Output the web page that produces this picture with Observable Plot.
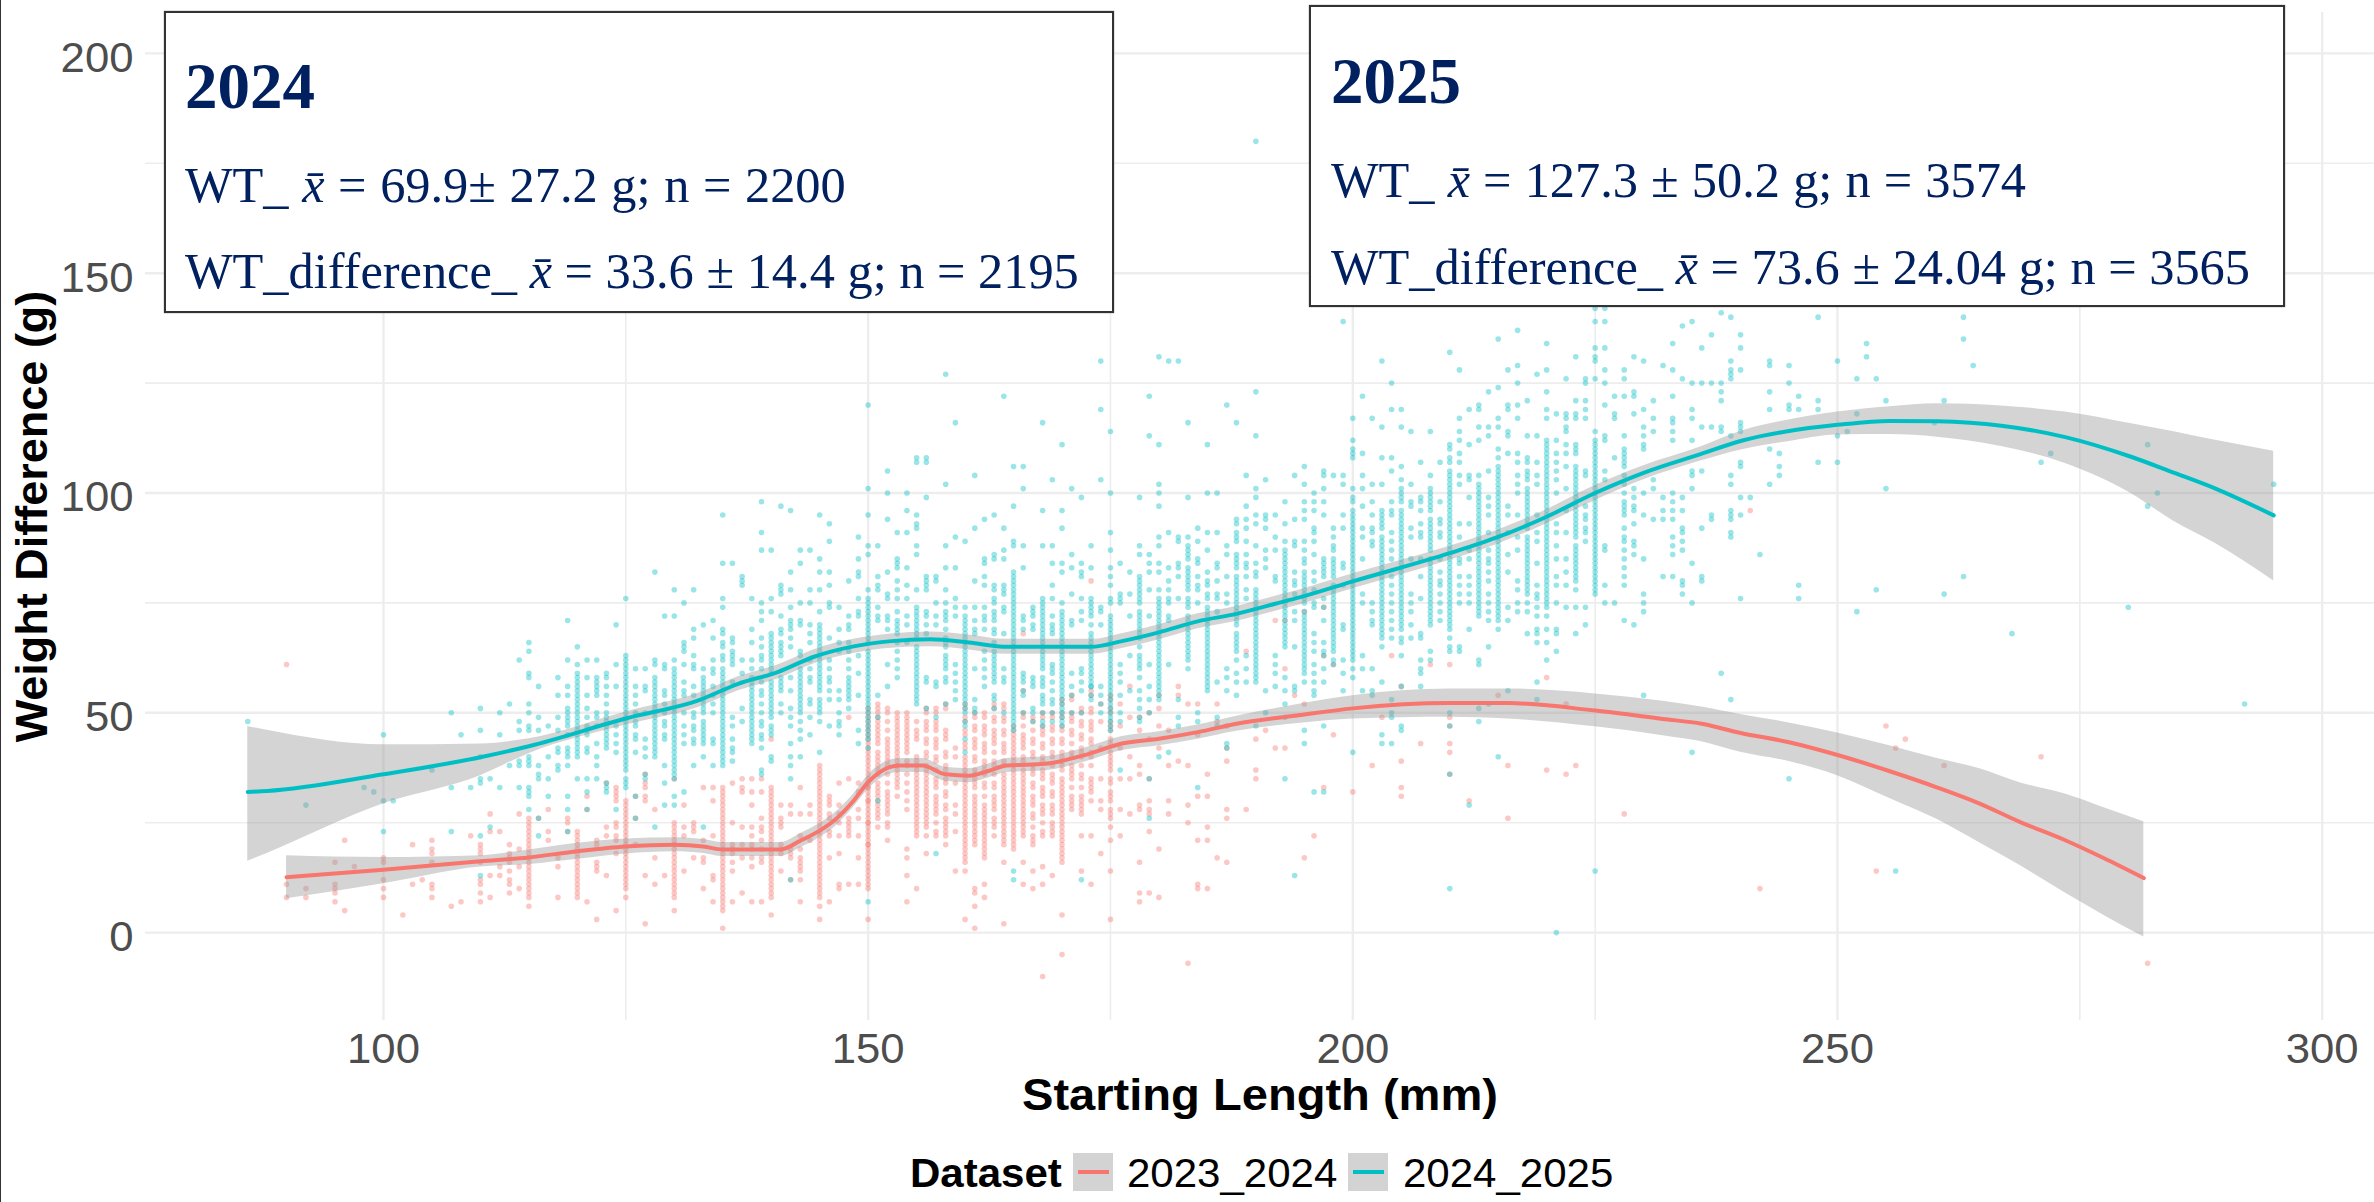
<!DOCTYPE html>
<html><head><meta charset="utf-8">
<script src="https://cdn.jsdelivr.net/npm/d3@7"></script>
<script src="https://cdn.jsdelivr.net/npm/@observablehq/plot@0.6"></script>
<style>
html,body{margin:0;padding:0;background:#fff;overflow:hidden}
#wrap{position:relative;width:2374px;height:1202px;font-family:"Liberation Sans",Arial,sans-serif}
#wrap svg{position:absolute;left:0;top:0}
.box{position:absolute;box-sizing:border-box;background:#fff;border:2px solid #333;box-shadow:0 0 1px #555;color:#002060;font-family:"Liberation Serif",serif}
.box div{position:absolute;white-space:nowrap;line-height:1}
.lg{position:absolute;white-space:nowrap;line-height:1;font-size:41px;color:#000;transform-origin:0 50%;transform:scaleX(1.025)}
.key{position:absolute;width:40px;height:38px;background:#d3d3d3}
.key i{position:absolute;left:5px;right:4px;top:17px;height:4px}
</style></head><body><div id="wrap"></div>
<script>
const legendTitle="Dataset", seriesNames=["2023_2024","2024_2025"], seriesColors=["#F8766D","#00BFC4"];
const xTitle="Starting Length (mm)", yTitle="Weight Difference (g)";
const xTicks=[100,150,200,250,300], yTicks=[0,50,100,150,200];
const xMinor=[125,175,225,275], yMinor=[25,75,125,175];

// smoothed curves and confidence ribbons
const redX =[90,100,110,115,120,125,130,133,135,141,143,145,146.5,148.5,150,151.2,153.2,155.6,158,160.4,162.3,164.3,168.3,172.2,176.2,180,184,188,194.6,200,210,216,225,232,236,240,245,250,255.4,260.3,264.6,268.8,273.5,277.5,281.6];
const redY =[12.6,14.3,16.2,17.1,18.5,19.6,20,19.6,18.9,18.9,20.9,23.2,25.5,30,34.2,36.5,38,38,36,35.7,36.7,38,38.4,40.3,43,44.1,45.6,47.5,49.5,51,52.2,52.2,50.5,48.6,47.5,45.4,43.3,40.4,36.7,33,29.4,25.2,21,16.9,12.4];
const redLo=[7.7,11.1,14.9,15.5,16.7,17.9,18.4,18,17.3,17.3,19.3,21.6,23.9,28.5,32.6,34.9,36.4,36.4,34.4,34.1,35.1,36.4,36.8,38.7,41.4,42.5,44,45.8,47.6,48.6,49,48.6,46.8,44.8,43.4,41,38.9,35.7,30.5,25.7,20.5,15.3,9,3.9,-1];
const redHi=[17.5,17.1,17.5,18.8,20.3,21.3,21.6,21.2,20.5,20.5,22.5,24.8,27.1,31.5,35.8,38.1,39.6,39.6,37.6,37.3,38.3,39.6,40,41.9,44.6,45.7,47.2,49.2,52,53.9,55.4,55.4,54.3,52.6,51.3,49.6,47.7,45.4,42.5,39.6,37.3,34.1,31.5,28.4,25.2];
const tealX =[86,88,100,110,115,125,132.7,136.6,140.6,144.5,148.5,152.4,156.4,160.4,164.3,168.3,173,176.2,180,184,188,192,194.6,200,210,215,220,225,230,235.8,240.3,244.7,250,255.4,260.3,266.9,273.5,280.2,284.6,289,295];
const tealY =[32,32.2,36,39.9,42.4,48.7,53,56.6,59.2,62.8,65.1,66.3,66.7,66,65,65,65,66.3,68.3,70.8,72.5,74.8,76.3,79.9,86.3,90,94.6,100,104.6,108.8,112,114,115.5,116.4,116.3,115.3,112.7,108.3,104.7,101,94.9];
const tealLo=[16.2,18,29.3,35.7,40.7,47.2,51.4,55,57.6,61.2,63.5,64.7,65,64.3,63.3,63.3,63.3,64.6,66.6,69.1,70.8,73.1,74.6,78.2,84.7,88.4,93,98.3,103,107.2,109.9,111.6,113.2,113.3,112.7,110.6,106.7,100,93.7,88.5,80];
const tealHi=[46.9,46,42.7,42.9,44.1,50.2,54.6,58.2,60.8,64.4,66.7,67.9,68.4,67.7,66.7,66.7,66.7,68,70,72.5,74.2,76.5,78,81.6,87.9,91.6,96.2,101.7,106.2,110.4,114.2,116.5,118.4,119.6,120.3,119.8,118.4,115.8,114,112,109.5];

// individual fish: [starting length, [weight differences]]
const redColumns=[[90,[61,11,8]],[92,[10,8]],[95,[16,11,10,9,7]],[96,[21,5]],[97,[15]],[100,[17,16,12,10,8]],[102,[4]],[103,[20,11]],[104,[12]],
[105,[21,19,18,16,11,10,8]],[107,[6]],[108,[7]],[109,[22]],[110,[20,19,18,16,12,11,9,7]],[111,[27,23,13,8]],[112,[23,15,13]],[113,[20,18,17,16,14,12,11,9]],[114,[27,19,15,10]],
[115,[26,22,21,20,19,18,16,15,14,13,12,11,10,9,8,6]],[116,[26]],[117,[28,23,21]],[118,[17,15,8]],[119,[26,25,23]],[120,[23,22,21,20,19,17,16,14,13,11,9,8]],[121,[31,28,7]],[122,[21,20,16,15,14,3]],[123,[34,24,22,13]],[124,[33,32,31,30,25,24,22,21,18,5]],
[125,[30,28,27,25,23,21,19,17,16,14,13,11,10,8]],[126,[31,26,20]],[127,[36,34,33,31,30,13,2]],[128,[28,17,11]],[129,[13]],[130,[35,25,23,22,20,19,17,16,14,12,11,9,8,5]],[131,[29,24,22,14]],[132,[25,24,23,17]],[133,[33,21,17,16,10]],[134,[33,30,22,13,12,7]],
[135,[33,31,30,29,28,26,25,23,22,20,19,17,16,14,13,11,10,8,6,5,1]],[136,[34,25,20,19,18,16,14,7]],[137,[35,33,32,24,20,17,9]],[138,[35,32,29,24,22,20,19,17,15,7]],[139,[35,32,26,24,23,21,19,17,16,7]],
[140,[44,31,30,29,28,27,26,25,24,23,22,21,20,19,18,17,16,14,13,11,8,4]],[141,[29,26,25,24,20,19,18,14]],[142,[29,27,19,18,17,12]],[143,[33,27,22,19,17,16,15,14,12,7]],[144,[29,27,21]],
[145,[38,33,32,31,30,29,28,27,26,25,24,22,21,20,19,18,17,16,15,14,11,8,6,3]],[146,[31,30,29,27,26,23,22,17,7]],[147,[34,29,27,25,22,18,11,10]],[148,[49,35,26,25,24,23,22,11]],[149,[34,32,28,26,22,17,11]],
[150,[51,49,47,46,44,43,41,40,38,37,35,34,32,31,29,28,26,25,23,22,20,19,17,16,14,13,11,10,3]],[151,[52,51,49,47,46,44,41,40,38,37,34,32,30,28,26,24]],[152,[51,46,44,43,41,39,34,32,31,29,27,25,24,21]],[153,[50,48,47,45,41,38,34]],[154,[50,48,47,45,44,42,39,34,30,19,17,13,7]],
[155,[48,46,40,36,35,33,32,30,28,26,24,22,10]],[156,[51,48,44,41,38,35,32,31,29,26,24,22,18]],[157,[51,47,44,40,35,31,29,25,23,22]],[158,[52,46,41,35,32,29,26,22,20]],[159,[42,40,34,29,27,23,14]],
[160,[52,49,46,43,40,38,37,35,32,29,26,25,23,22,20,19,17,16,14,3]],[161,[50,47,43,40,37,34,31,29,26,23,22,20,10,9,6,1]],[162,[50,46,42,39,37,34,29,26,24,22,20,19,17,11,8]],[163,[52,49,46,44,39,34,31,26,22]],[164,[52,49,46,42,39,35,32,30,28,26,23,20,16,2]],
[165,[47,44,41,38,36,35,33,32,30,29,27,25,24,22]],[166,[68,55,50,44,40,36,33,31,29,26,24,22,16,11]],[167,[49,44,41,37,34,31,27,22,14,10]],[168,[50,46,43,40,37,32,29,22,15,11,-10]],[169,[50,47,44,41,35,32,28,25,13]],
[170,[53,50,47,44,40,38,35,32,29,28,26,22,20,18,16,4,-5]],[171,[54,49,46,41,37,31,28]],[172,[51,48,45,41,35,31,28,22,14]],[173,[80,55,51,47,44,40,35,33,22,11]],[174,[52,48,42,35,30,28,18]],
[175,[54,51,47,44,40,38,35,31,27,21,14,3]],[176,[52,47,42,35,28,22]],[177,[56,49,40,35,27]],[178,[49,46,38,36,29,28,16,9,7]],[179,[50,44,35,30,28,27,23,9]],[180,[54,51,47,42,19,8]],[181,[46,38,30,27]],[182,[56,54,39]],[183,[52,38,29,25,-7]],[184,[52,45,31,21,11,10]],
[185,[36,31,24,21,10]],[186,[52,48,17]],[187,[42,39,28,26,16]],[189,[64,28]],[190,[44,37,35]],[191,[46]],[192,[71,42]],[193,[71,60,42]],[194,[54]],[195,[73,52,17]],[196,[22]],[197,[74,63,33]],[198,[61,45]],[200,[32]],[202,[38]],[203,[49]],[204,[63]],[205,[56,39,33,31]],[207,[43]],[208,[61]],
[210,[61,49,47,43,41,36]],[212,[30]],[215,[54]],[216,[38,26]],[220,[58,37]],[222,[52,36]],[223,[38]],[228,[27]],[241,[96]],[242,[10]],[254,[14]],[255,[47]],[256,[42]],[257,[44]],[261,[38]],[271,[40]],[282,[-7]]];
// further fish in the crowded columns
const redCrowded=[[115,[25,24,23,17]],[120,[18,15,12,10]],[125,[29,26,24,22,20,18,15,12]],[130,[24,21,18,15,13,10]],[135,[32,27,24,21,18,15,12,9,7]],[140,[33,32,15,12,10,9]],[145,[37,36,35,34,23,13,12,10,9]],
[150,[50,48,45,42,39,36,33,30,27,24,21,18,15,12,33,30,25,20]],[151,[50,48,45,43,39,36,33,31,29,27]],[152,[50,48,42,40,38,36,30,28]],[153,[49,46,44,43,42,40,39,37,36,35,33,31]],[154,[49,46,43,41,38,36,32,28]],[155,[45,44,39,38,37,34,31,29,27,25,23]],[156,[50,47,46,43,40,37,36,34,33,30,28,27,25]],[157,[50,48,46,43,42,39,37,34,33,30,28,27]],[158,[51,45,44,40,38,37,34,31,28,25,24,23]],
[160,[51,48,45,42,39,36,34,33,31,30,28,27,24,21,18]],[161,[49,46,44,42,39,36,35,33,30,28,27,25,24,21]],[162,[49,47,45,43,41,38,36,33,31,28,27,25,23,21,18]],[163,[51,48,45,43,41,38,36,33,30,29,28,25,24]],[164,[51,48,45,43,41,38,36,34,33,31,29,27,25,24,22,21]],[165,[46,45,43,42,40,39,37,34,31,28,26,23,21,20,19]],[166,[49,47,45,43,42,39,37,35,34,32,30,28,27,25,23]],[167,[48,46,43,40,38,36,33,30,29,26,24,21,20]],[168,[49,47,45,42,39,36,35,33,31,28,27,25,23]],[169,[49,46,43,40,38,36,34,31,29,27,24,23,22]],
[170,[52,49,46,43,41,39,37,34,33,31,30,27,25,24,23,21,19,17]],[171,[53,50,48,45,43,40,38,36,35,33,30,29]],[172,[50,47,44,42,40,38,36,33,30,29,27]],[173,[54,50,48,46,43,41,38,34,32,30]],[175,[53,50,48,46,43,41,39,37,34,32,30,28,26,24]]];

const tealColumns=[[86,[48]],[92,[29]],[98,[33]],[99,[32]],[100,[45,30,23]],[101,[30]],[105,[37]],[107,[50,33,23]],[108,[45]],[109,[33]],[110,[51,46,40,35,34,22,13]],[111,[35,24]],[112,[50,45,33]],[113,[52,38]],
[114,[62,48,46,39,38,33]],[115,[66,64,59,58,52,50,47,46,40,39,38,33,32,31,28]],[116,[56,49,46,38,36,35,26,22]],[117,[47,40,35,31]],[118,[58,54,49,46,42,41,38,37]],[119,[71,62,56,54,51,50,49,48,47,45,42,41,40,38,31,28,23]],
[120,[65,61,59,58,57,56,55,53,52,51,50,48,45,44,43,42,41,40,35]],[121,[62,58,54,51,49,47,46,45,42,41,35,32,28]],[122,[62,58,57,56,55,54,50,49,47,43,40,38,35]],[123,[59,47,45,43,34,33,32]],[124,[70,61,56,47,45,43,41,28]],
[125,[76,63,62,61,60,59,57,55,54,53,52,50,48,46,45,42,41,37,35,34,33]],[126,[60,56,54,52,50,48,47,45,44,41,31,26]],[127,[60,56,55,50,44,42,40,36,35]],[128,[82,62,61,58,57,55,50,45,43,41,40,24]],[129,[72,61,60,55,54,52,50,48,47,45,44,38,34,29]],
[130,[78,72,62,60,58,55,54,51,50,48,46,45,44,42,40,38,37,36,35,31,29]],[131,[75,66,65,64,61,57,55,54,50,47,45,43,32]],[132,[78,69,67,63,61,60,56,54,50,49,47,46,44,43,38]],[133,[70,60,57,55,51,44,43,40,24]],[134,[71,67,62,60,59,56,54,52,50,44,43,38]],
[135,[95,84,76,74,69,68,66,65,63,62,60,59,55,53,50,47,44,43,41,39,38]],[136,[84,67,66,64,63,62,61,57,49,47,44,42,41,39]],[137,[81,80,79,62,59,51,48]],[138,[76,69,66,60,54,52,51,50,49,44,43]],[139,[98,91,87,75,73,71,67,65,63,62,60,57,55,54,52,50,48,47,45,44,42,37,36]],
[140,[87,76,73,68,67,66,65,64,61,57,55,53,50,49,40,39]],[141,[97,79,78,77,72,69,68,66,65,64,63,58,57,56,55,52,50]],[142,[96,82,78,74,71,70,69,67,65,58,55,51,49,47,43,40,38,35,12]],[143,[87,84,75,71,70,64,57,55,54,53,52,40]],[144,[87,78,75,70,68,66,62,60,58,57,53,52,49,45]],
[145,[95,85,82,78,73,70,69,67,66,64,62,60,59,53,52,41]],[146,[93,89,82,79,75,74,67,62,60,58,57,55,53,47]],[147,[74,69,66,64,55,53,50,48,47,45]],[148,[80,72,70,58,57,51]],[149,[90,85,82,81,76,73,72,63,59,54,46,43]],
[150,[120,101,95,88,86,78,76,75,73,71,67,62,60,59,57,56,54,49,48,46,42,7]],[151,[88,81,79,78,74,72,71,54,49,30]],[152,[105,100,94,82,77,76,72,71,69,61,56]],[153,[91,85,84,80,71,70]],[154,[100,96,91,83,79,76,72,70,66]],
[155,[108,107,95,93,92,88,86,78,74,71,70,69,61,60,58,56,55,54]],[156,[108,107,99,81,80,79,78,73,72,70,68,58,57,51]],[157,[81,80,75,72,70,57,56,49,18]],[158,[127,102,88,83,78,75,69,52]],[159,[116,90,83,76,74,72,61,59,57,55,53]],
[160,[89,74,72,71,69,68,61,59,52,51,50,48,47,44,41]],[161,[104,92,80,74,71,69,68,60,53,51,50]],[162,[94,85,84,81,79,74,72,71,69,64,62,60,58,56]],[163,[95,86,85,79,78,71,69,64,54,53,51]],[164,[122,92,87,85,79,78,77,74,73,68,60,58,57,50]],
[165,[106,97,89,88,82,81,80,79,78,72,70,69,65,60,58,56,54,51,49,47,46,14,12]],[166,[106,101,88,83,72,71,69,59,58,57,55,54,50]],[167,[74,73,72,70,69,58,57,56,51,50,48]],[168,[116,96,88,76,73,71,69,68,57,56,50,48,47]],[169,[103,88,84,79,76,72,70,69,68,61,60,59,57,55,53,52,50,48]],
[170,[111,96,92,84,82,75,73,72,71,69,68,63,61,59,57,55,52,50,49]],[171,[101,86,83,77,71,70,59,56,54,50]],[172,[99,84,82,81,76,73,71,60,59,57,55,50,12]],[173,[88,83,76,70,59,58,56,54]],[174,[130,119,103,74,73,70,56,54,52,50]],
[175,[114,100,91,87,83,81,79,76,75,72,71,69,68,63,60,58,57,55,54,52,50,48,47,46]],[176,[84,77,76,75,61,59,57,54,50,48,37]],[177,[82,77,72,63,55]],[178,[99,88,86,81,77,73,69,60,58,55,53,51,49,48]],[179,[122,113,86,84,82,78,72,61,56,53,50,35,26]],
[180,[131,111,102,100,97,90,88,84,82,78,76,75,63,62,57,55,54,40]],[181,[130,91,83,80,78,76,75,72,71,61,41]],[182,[130,90,89,84,83,81,76,53,49,47]],[183,[116,99,90,88,83,81,76,72,62,60]],[184,[92,89,85,84,81,79,78,75,50,48,33]],
[185,[111,100,91,87,82,80,79,77,76,74,65,63,61,60,58,57,55]],[186,[100,91,84,83,80,77,76,73,57,49,47]],[187,[120,88,86,81,77,75,60,58,55,47,43,42]],[188,[116,94,93,91,90,89,86,81,64,62,59,57,54]],[189,[104,97,94,92,89,86,84,83,81,78,76,63,60,57]],
[190,[180,123,113,101,99,95,93,88,84,82,81,78,77,75,62,60,57,47]],[191,[103,95,94,92,87,85,83,55,50]],[192,[95,90,87,81,80,63,61,59,56]],[193,[98,93,89,87,85,83,79,77,68,65,58,55,52,49,35]],[194,[104,94,89,88,82,80,79,77,73,71,65,56,55,13]],
[195,[106,102,98,96,94,89,87,85,84,82,81,73,72,70,67,64,62,60,57,46,43]],[196,[100,98,96,92,91,89,86,82,80,78,75,74,68,66,64,61,59,57,55,54,32]],[197,[105,104,101,98,95,85,84,83,82,81,76,74,71,66,64,63,60,57,47,32]],[198,[104,92,85,84,83,79,78,73,72,70,66,62,61]],[199,[139,104,102,95,92,84,83,79,70,69,62,59,55]],
[200,[117,112,110,109,108,101,99,98,96,95,91,89,87,83,81,79,77,73,71,70,65,63,62,60,58,41]],[201,[122,109,104,101,97,92,90,85,77,75,63,60,55]],[202,[117,102,98,95,92,91,89,88,75,73,71,70,60,55,54]],[203,[130,115,108,102,96,95,90,88,87,79,78,76,71,70,65,57,45,43]],
[204,[125,119,108,105,98,96,95,91,89,87,85,81,79,77,75,73,71,69,67,53,50,49,43]],[205,[119,115,106,103,100,95,94,92,91,89,85,80,78,76,74,71,69,67,66,63,56,47,46]],[206,[114,102,98,97,92,90,85,77,75,73,70,67]],[207,[107,99,98,96,93,91,90,85,81,76,68,67,62,60,59,56]],[208,[114,104,101,98,94,91,82,81,79,78,73,71,70,64,62]],
[209,[107,98,94,93,91,90,85,82,80,79,77,75,73,71]],[210,[132,111,110,108,107,105,102,99,98,96,95,93,92,90,88,84,82,81,79,78,75,69,67,65,64,50,47,36,10]],[211,[128,117,114,112,109,107,104,102,93,90,85,84,81,79,77,75,65,64]],[212,[119,111,104,103,99,93,87,85,81,79,77,75,69,29]],
[213,[120,119,115,112,104,102,98,96,95,91,87,85,84,82,79,77,74,72,62,61,51,48]],[214,[123,115,113,105,99,97,95,91,87,85,84,82,80,77,75,73,71,65,52]],[215,[135,124,117,115,110,108,106,104,102,100,98,95,93,91,88,86,82,78,76,71,69,40]],[216,[128,120,119,114,113,109,97,95,91,86,82,74,71,55]],
[217,[137,129,125,120,117,109,107,104,102,100,95,90,87,80,78,75,73]],[218,[121,113,108,107,101,95,92,86,84,83,80,75,73,68]],[219,[127,113,107,104,102,95,91,89,84,79,77,76,74,72,69,68,66,57,53]],[220,[134,128,123,119,117,112,110,109,107,106,104,102,101,99,98,94,89,86,83,80,78,74,72,69,66,62]],
[221,[118,112,109,107,105,103,100,93,91,88,85,81,79,75,69,68,64,0]],[222,[126,118,117,115,114,111,109,106,101,96,91,85,82,79,74]],[223,[131,121,118,117,106,105,96,95,93,92,90,88,86,84,82,74,68]],[224,[126,125,121,119,117,105,104,97,95,94,92,91,89,74,70]],
[225,[142,139,133,131,130,126,114,112,107,104,102,100,98,96,93,91,88,86,84,81,79,77,14]],[226,[142,139,133,128,125,120,113,112,105,103,88,87,79,75]],[227,[122,118,117,108,75]],[228,[128,126,122,113,110,98,90,83,79,71]],[229,[131,123,122,118,101,99,97,96,93,89,88,86,70]],
[230,[130,119,115,113,111,110,100,95,85,77,75,73,54]],[231,[121,117,114,103,101,94]],[232,[129,99,96,94,81]],[233,[134,128,122,117,116,114,112,100,98,96,94,90,88,86,81]],[234,[138,126,99,96,92,91,89,87,80,79,77]],[235,[139,125,119,117,112,105,104,101,84,75,41]],
[236,[133,125,115,105,92,81,80]],[237,[136,125,115,95,94]],[238,[141,125,123,121,115,114,59]],[239,[140,130,128,127,126,113,104,102,96,95,94,91,90,53]],[240,[136,133,128,116,115,114,107,106,99,95,76]],[241,[99]],[242,[86]],[243,[130,129,123,119,110,102]],[244,[109,106,104]],
[245,[129,125,120,119,35]],[246,[122,119,79,76]],[248,[140,121,119,107]],[250,[130,113,107]],[251,[114]],[252,[126,118,73]],[253,[134,131]],[254,[126,78]],[255,[121,101]],[256,[14]],[260,[116]],[261,[121,77]],[263,[140,135,81]],[264,[129]],[268,[68]],[271,[107]],[272,[109]],[280,[74]],[282,[111,97]],[283,[100]],[292,[52]],[295,[102]]];
// further fish in the crowded columns
const tealCrowded=[[120,[54,49,47,46]],[123,[58,56,54,52,50,49,48,46,44,42]],[125,[58,56,51,49,47,44,43,40,39,38]],[128,[56,54,53,52,51,49,48,47,46,44,42]],[130,[59,57,56,53,52,49,47,43,41,39]],[133,[58,56,54,53,52,50,48,47,46,45]],[135,[58,57,56,54,52,51,49,48,46,45,42,40]],[138,[62,58,57,56,55,53,48,47,46,45]],
[140,[63,62,60,59,56,54,52,51,47,46,45]],[143,[63,60,59,58,56,51,50,48,46,44]],[145,[68,65,63,61,58,57,56,55,51,50,48]],[148,[69,66,64,62,60,56,55,54,53]],[150,[74,72,70,69,68,66,64,63,61,58,55,53,52,51,50,47,45,44]],[153,[83,78,76,73,69,68,66,64,62,60,58]],[155,[73,72,68,67,65,64,63,62,59,57,53,52]],[158,[73,72,71,67,66,65,63,62,61,60,58,57]],
[160,[70,67,66,65,64,63,62,60,58,57,56,55,54,53]],[163,[76,75,73,72,68,66,63,62,61,60,59,58,57]],[165,[77,76,75,74,73,71,68,67,66,64,63,62,61,59,57,55,53,52,50,48]],[168,[75,74,72,70,67,66,65,64,63,62,61,60,58,54,53,52]],[170,[70,67,66,65,64,62,60,58,56,54,53,51,48,47]],[173,[75,74,73,72,68,67,66,65,64,63,62,61,60,57,56,53]],[175,[70,67,66,65,64,62,61,59,56,53,51,49]],[178,[80,79,78,76,75,72,71,70,68,67,65,63,62,61]],
[180,[74,73,72,71,70,69,68,67,66,65,64,61,60,59,58,56,53]],[183,[87,86,85,82,80,79,78,75,74,71,70,69,68,67,66,65,64,63]],[185,[73,72,71,70,69,68,67,66,64,62,59,56]],[188,[85,84,83,80,79,78,77,76,75,74,73,72,71,70,68,67,66,65]],[190,[76,74,73,72,71,70,69,68,67,66,65,64,63,61,59,58]],[193,[86,84,82,81,80,78,76,75,74,73,72,71,70,69,67,66]],[195,[80,79,78,77,76,75,71,69,68,66,65,63,61,59]],[198,[90,88,87,82,81,77,76,75,74,71,69,68,67,65,64]],
[200,[94,93,92,90,88,86,85,84,82,80,78,76,75,74,72,69,68,67,66,64]],[203,[94,93,92,89,86,85,84,83,82,81,80,77,75,74,73,72,69,68,67]],[205,[101,99,98,96,93,90,88,87,86,84,83,82,81,79,77,75,73,72,70]],[208,[100,99,97,96,93,92,90,89,88,87,85,84,83,80,77,76,75,74,72]],[210,[104,103,101,100,97,94,91,89,87,86,85,83,80,77,76,74,73,72,71,70]],[213,[101,100,99,97,94,93,92,90,89,88,86,83,81,80,78,76,75,73]],[215,[105,103,101,99,97,96,94,92,90,89,87,85,84,83,81,80,79,77,75,74,73,72]],[218,[105,104,103,100,99,98,97,96,94,93,90,89,88,87,85,82,81,79,78,77]],
[220,[111,108,105,103,100,97,96,95,93,92,91,90,88,87,85,84,82,81,79,77,76,75]],[223,[111,110,109,104,103,102,101,100,99,98,97,94,91,87,85,83,81,80,78]],[225,[111,110,109,108,106,105,103,101,99,97,95,94,92,90,89,87,85,83,82,80,78]],[228,[109,108,107,106,104,102,100,97,96,95,92,89,87,85,81]]];

const toTable=(cols,name)=>cols.flatMap(([len,ws])=>ws.map(w=>({len,w,name})));
const redFish=toTable(redColumns.concat(redCrowded),seriesNames[0]), tealFish=toTable(tealColumns.concat(tealCrowded),seriesNames[1]);
const curve=(xs,ys,lo,hi)=>xs.map((x,i)=>({x,y:ys[i],lo:lo[i],hi:hi[i]}));
const redCurve=curve(redX,redY,redLo,redHi), tealCurve=curve(tealX,tealY,tealLo,tealHi);

const gridC="#ededed";
const chart=Plot.plot({
  width:2374,height:1202,marginLeft:145,marginRight:0,marginTop:12,marginBottom:182,
  style:{fontFamily:'"Liberation Sans",Arial,sans-serif',background:"#fff"},
  x:{domain:[75.45,305.4],axis:null},y:{domain:[-20,209.3],axis:null},
  marks:[
    Plot.ruleY(yMinor,{stroke:gridC,strokeWidth:1.6}),
    Plot.ruleX(xMinor,{stroke:gridC,strokeWidth:1.6}),
    Plot.ruleY(yTicks,{stroke:gridC,strokeWidth:2.4}),
    Plot.ruleX(xTicks,{stroke:gridC,strokeWidth:2.4}),
    Plot.dot(redFish,{x:"len",y:"w",r:2.8,fill:seriesColors[0],fillOpacity:.4,stroke:"none"}),
    Plot.dot(tealFish,{x:"len",y:"w",r:2.8,fill:seriesColors[1],fillOpacity:.4,stroke:"none"}),
    Plot.areaY(redCurve,{x:"x",y1:"lo",y2:"hi",fill:"#999",fillOpacity:.42,curve:"monotone-x"}),
    Plot.areaY(tealCurve,{x:"x",y1:"lo",y2:"hi",fill:"#999",fillOpacity:.42,curve:"monotone-x"}),
    Plot.line(redCurve,{x:"x",y:"y",stroke:seriesColors[0],strokeWidth:4,curve:"monotone-x"}),
    Plot.line(tealCurve,{x:"x",y:"y",stroke:seriesColors[1],strokeWidth:4,curve:"monotone-x"}),
    Plot.axisX({ticks:xTicks,tickSize:0,tickPadding:13,fontSize:42,fill:"#4d4d4d",label:null}),
    Plot.axisY({ticks:yTicks,tickSize:0,tickPadding:12,fontSize:42,fill:"#4d4d4d",label:null,dy:5}),
    Plot.text([xTitle],{frameAnchor:"bottom",dy:89,fontSize:44,fontWeight:"bold",fill:"#000",lineAnchor:"bottom"}),
    Plot.text([yTitle],{frameAnchor:"left",dx:-99,rotate:-90,textAnchor:"middle",fontSize:45,fontWeight:"bold",fill:"#000",lineAnchor:"bottom"})
  ]
});
const wrap=document.getElementById("wrap");
wrap.appendChild(chart);
// the source picture is stretched sideways, so its horizontal labels are wider than the plain font
chart.querySelectorAll("text").forEach(t=>{
  const s=t.textContent.trim();
  const k=s===xTitle?1.07:/^\d+$/.test(s)?1.04:0;
  if(!k) return;
  t.setAttribute("textLength",(t.getComputedTextLength()*k).toFixed(1));
  t.setAttribute("lengthAdjust","spacingAndGlyphs");
});
const add=(html)=>{const t=document.createElement("template");t.innerHTML=html;wrap.appendChild(t.content.firstChild);};
add('<div style="position:absolute;left:0;top:0;width:1px;height:1202px;background:#333"></div>');
const xbar='<i>x\u0304</i>';
add(`<div class="box" style="left:164px;top:11px;width:950px;height:302px">
<div style="left:19px;top:41px;font-size:65px;font-weight:bold">2024</div>
<div style="left:19px;top:147px;font-size:50.4px;word-spacing:1px">WT_ ${xbar} = 69.9± 27.2 g; n = 2200</div>
<div style="left:19px;top:233px;font-size:50.4px">WT_difference_ ${xbar} = 33.6 ± 14.4 g; n = 2195</div></div>`);
add(`<div class="box" style="left:1309px;top:5px;width:976px;height:302px">
<div style="left:20px;top:42px;font-size:65px;font-weight:bold">2025</div>
<div style="left:20px;top:148px;font-size:50.4px;word-spacing:.5px">WT_ ${xbar} = 127.3 ± 50.2 g; n = 3574</div>
<div style="left:20px;top:235px;font-size:50.4px">WT_difference_ ${xbar} = 73.6 ± 24.04 g; n = 3565</div></div>`);
add(`<div class="lg" style="left:910px;top:1153px;font-weight:bold">${legendTitle}</div>`);
add(`<div class="key" style="left:1073px;top:1153px"><i style="background:${seriesColors[0]}"></i></div>`);
add(`<div class="lg" style="left:1127px;top:1153px">${seriesNames[0]}</div>`);
add(`<div class="key" style="left:1348px;top:1153px"><i style="background:${seriesColors[1]}"></i></div>`);
add(`<div class="lg" style="left:1403px;top:1153px">${seriesNames[1]}</div>`);
</script></body></html>
